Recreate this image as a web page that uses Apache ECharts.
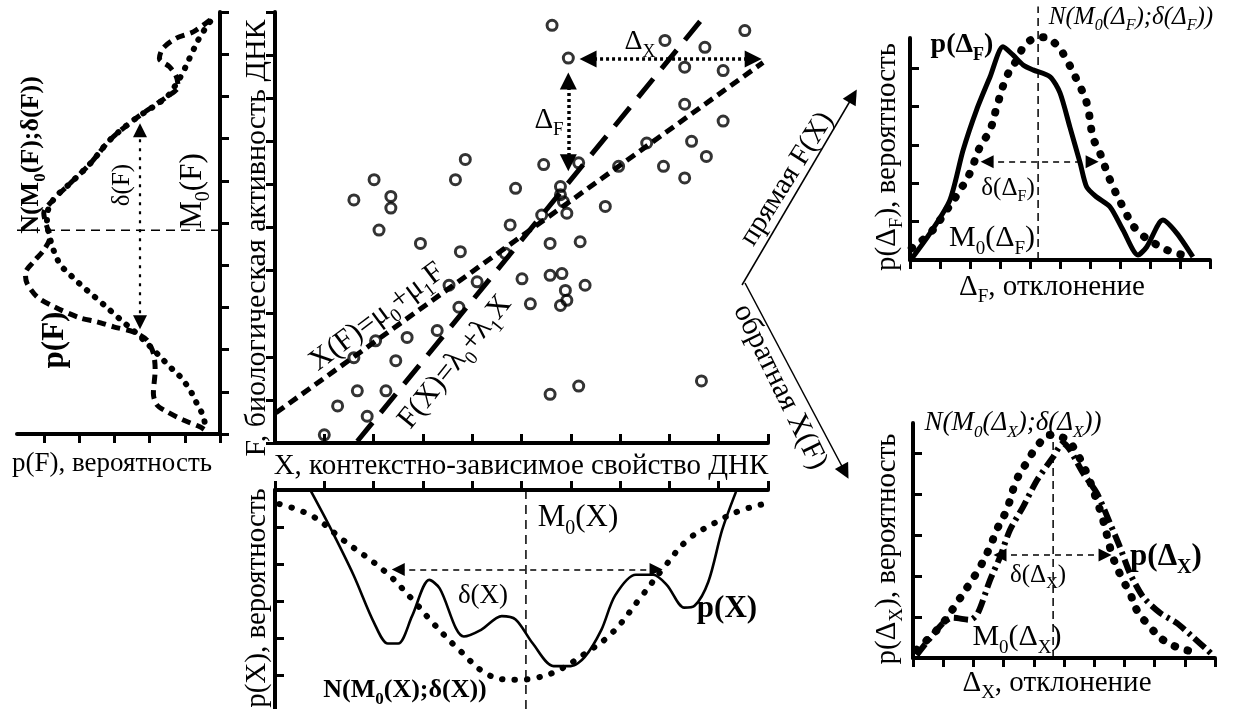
<!DOCTYPE html>
<html><head><meta charset="utf-8">
<script src="https://cdn.jsdelivr.net/npm/echarts@6/dist/echarts.min.js"></script>
<style>html,body{margin:0;padding:0;background:#fff}#c{width:1234px;height:709px}</style>
</head><body><div id="c"></div><script>
// ---------- DATA ----------
// central scatter: [X, F]
const scatterPoints = [[5.62,9.69],[7.91,9.34],[8.72,9.18],[9.53,9.57],[5.95,8.93],[8.31,8.72],[9.09,8.64],[8.31,7.86],[9.09,7.47],[7.54,6.96],[8.45,7.00],[8.75,6.65],[7.88,6.42],[8.31,6.15],[6.97,6.42],[5.45,6.46],[6.16,6.50],[3.86,6.58],[3.66,6.11],[2.01,6.11],[1.60,5.64],[2.35,5.72],[2.35,5.45],[2.11,4.94],[4.88,5.91],[5.79,5.95],[5.79,5.76],[5.85,5.60],[6.70,5.49],[5.41,5.29],[5.92,5.33],[4.77,5.06],[2.95,4.63],[3.76,4.44],[4.67,4.40],[5.58,4.63],[6.19,4.67],[5.58,3.89],[5.82,3.93],[5.01,3.81],[4.10,3.74],[3.53,3.66],[6.29,3.66],[5.89,3.54],[5.92,3.31],[5.79,3.19],[5.18,3.23],[3.73,3.15],[3.29,2.61],[2.68,2.45],[2.04,2.37],[1.60,1.98],[2.45,1.91],[1.67,1.21],[2.25,1.21],[1.27,0.86],[1.87,0.62],[1.00,0.19],[5.58,1.13],[6.16,1.32],[8.65,1.44]];
const lineFX = [[1.67,0.04],[8.75,9.96]];          // F(X)=λ0+λ1X
const lineXF = [[0.02,0.70],[9.90,8.83]];          // X(F)=μ0+μ1F
const deltaFArrow = [[5.95,8.40],[5.95,6.50]];
const deltaXArrow = [[6.35,8.91],[9.70,8.91]];
// left panel: [p(F), F]
const pFCurve = [[0.28,9.81],[0.76,9.53],[1.24,9.38],[1.62,9.14],[1.72,8.90],[1.43,8.70],[1.24,8.47],[1.19,8.23],[1.51,7.99],[1.98,7.72],[2.45,7.44],[3.12,6.97],[3.68,6.41],[4.25,5.94],[4.73,5.55],[5.00,5.23],[4.91,4.91],[4.82,4.68],[5.00,4.36],[5.29,4.08],[5.52,3.81],[5.48,3.58],[5.19,3.25],[4.72,3.02],[3.97,2.75],[3.49,2.66],[3.02,2.54],[2.46,2.42],[2.08,2.23],[1.89,1.91],[1.84,1.52],[1.89,0.96],[1.79,0.69],[1.51,0.53],[1.04,0.33],[0.57,0.17],[0.42,0.09]];
const normFCurve = [[0.28,9.77],[0.57,9.41],[0.80,9.02],[1.04,8.59],[1.23,8.31],[1.51,7.99],[2.45,7.44],[3.12,6.97],[3.68,6.41],[4.25,5.94],[4.73,5.55],[4.91,5.15],[4.88,4.83],[4.58,4.08],[4.20,3.73],[3.78,3.41],[3.40,3.14],[2.97,2.82],[2.64,2.58],[2.27,2.31],[1.79,1.91],[1.42,1.59],[1.13,1.36],[0.85,1.04],[0.66,0.73],[0.47,0.41],[0.42,0.17]];
const modeF = [[0,4.83],[5.76,4.83]];
const sigmaFArrow = [[2.27,7.20],[2.27,2.65]];
// bottom panel: [X, p(X)]
const pXCurve = [[0.72,0.01],[1.11,0.99],[1.59,2.29],[2.01,3.59],[2.29,4.15],[2.50,4.15],[2.78,3.41],[3.13,2.43],[3.34,2.66],[3.83,3.96],[4.18,3.78],[4.60,3.41],[4.88,3.50],[5.23,4.15],[5.65,4.76],[6.00,4.76],[6.28,4.52],[6.62,3.78],[6.90,2.85],[7.32,2.29],[7.67,2.29],[7.95,2.57],[8.30,3.18],[8.51,3.13],[8.79,2.48],[9.07,1.08],[9.35,0.05]];
const normXCurve = [[0.09,0.38],[0.75,0.70],[1.38,1.35],[2.22,2.19],[2.78,2.95],[3.20,3.59],[3.75,4.34],[4.32,4.99],[4.88,5.13],[5.29,5.08],[5.72,4.89],[6.28,4.43],[6.84,3.86],[7.39,2.95],[7.88,2.11],[8.37,1.35],[8.92,0.89],[9.41,0.57],[9.91,0.38]];
const modeX = [[5.09,0],[5.09,5.92]];
const sigmaXArrow = [[2.50,2.15],[7.73,2.15]];
// top-right panel: [ΔF, p(ΔF)]
const pDFCurve = [[0.06,0.04],[0.67,0.70],[1.33,1.56],[1.77,2.86],[2.22,3.91],[2.67,4.77],[3.10,5.55],[3.43,5.34],[3.77,5.08],[4.10,4.95],[4.67,4.77],[5.00,4.35],[5.33,3.46],[5.67,2.53],[5.89,1.90],[6.22,1.64],[6.67,1.38],[7.10,0.78],[7.60,0.13],[7.89,0.34],[8.43,1.04],[8.89,0.70],[9.43,0.08]];
const normDFCurve = [[0.06,0.31],[0.67,0.70],[1.22,1.30],[1.67,1.82],[2.00,2.27],[2.33,2.94],[2.67,3.39],[2.89,3.98],[3.22,4.77],[3.56,5.21],[3.89,5.65],[4.43,5.80],[4.89,5.60],[5.22,5.21],[5.56,4.69],[5.89,4.09],[6.10,3.20],[6.33,2.79],[6.67,2.08],[7.10,1.38],[7.56,0.78],[8.43,0.31],[9.10,0.13]];
const modeDF = [[4.27,0],[4.27,6.6]];
const sigmaDFArrow = [[2.57,2.56],[6.07,2.56]];
// bottom-right panel: [ΔX, p(ΔX)]
const pDXCurve = [[0.12,0.07],[0.99,0.85],[1.32,0.98],[1.89,0.93],[2.15,1.10],[2.55,1.90],[2.88,2.46],[3.21,3.12],[3.64,3.68],[4.11,4.34],[4.64,4.90],[4.97,5.24],[5.20,5.07],[5.63,4.51],[6.09,4.02],[6.52,3.29],[6.85,2.71],[7.18,2.07],[7.62,1.49],[8.18,1.10],[8.74,0.85],[9.27,0.51],[9.74,0.20],[9.93,0.07]];
const normDXCurve = [[0.12,0.20],[0.56,0.51],[0.99,0.85],[1.45,1.34],[1.89,1.83],[2.22,2.22],[2.55,2.71],[2.77,3.12],[3.10,3.61],[3.43,4.34],[3.76,4.76],[4.10,5.15],[4.54,5.44],[5.09,5.32],[5.42,5.00],[5.75,4.51],[6.08,3.85],[6.29,3.37],[6.62,2.46],[6.95,1.90],[7.18,1.59],[7.41,1.17],[7.85,0.76],[8.28,0.44],[8.84,0.24],[9.50,0.12]];
const modeDX = [[4.64,0],[4.64,5.39]];
const sigmaDXArrow = [[2.88,2.51],[6.36,2.51]];
// tick positions
const ticks0to10 = [0,1,2,3,4,5,6,7,8,9,10];
const ticks0to5 = [0,1,2,3,4,5];
const ticks1to5 = [1,2,3,4,5];
// overlay (page-pixel space) arrows between panels
const arrowDirect = [[742,285],[853,96]];
const arrowInverse = [[745,283],[845,472]];

// ---------- HELPERS ----------
const FAM = "'Liberation Serif','Times New Roman',serif";
function axis(gi, o, tickVals, inside) {
  return Object.assign({
    type:'value', gridIndex:gi,
    axisLine:{show:true, onZero:false, lineStyle:{color:'#000', width:4}},
    axisTick:{show:true, inside:!!inside, length:9, customValues:tickVals, lineStyle:{color:'#000', width:3}},
    axisLabel:{show:false}, splitLine:{show:false}
  }, o);
}
function curve(gi, data, ls, smooth) {
  return {type:'line', xAxisIndex:gi, yAxisIndex:gi, data, showSymbol:false, symbol:'none',
    smooth: smooth == null ? 0.3 : smooth, clip:false, silent:true, animation:false,
    lineStyle:Object.assign({color:'#000'}, ls)};
}
function arrow(gi, pts, ls, size, sym) {
  return {type:'lines', coordinateSystem:'cartesian2d', xAxisIndex:gi, yAxisIndex:gi,
    symbol: sym || ['triangle','triangle'], symbolSize:size, silent:true, animation:false, z:6,
    itemStyle:{color:'#000'}, data:[{coords:pts}],
    lineStyle:Object.assign({color:'#000', opacity:1, curveness:0}, ls)};
}
function label(x, y, txt, size, o) {
  o = o || {};
  const w = o.bold ? 'bold' : 'normal', st = o.italic ? 'italic' : 'normal';
  const ss = Math.round(size*0.64);
  return {type:'text', x, y, rotation:(o.rot||0)*Math.PI/180, z:100, silent:true,
    style:{text:txt, fontSize:size, fontFamily:FAM, fontWeight:w, fontStyle:st, fill:'#000',
      align:'center', verticalAlign:'middle',
      rich:{
        s:{fontSize:ss, fontFamily:FAM, fontWeight:w, fontStyle:st, fill:'#000', verticalAlign:'top', padding:[Math.round(size*0.72),0,0,0]}
      }}};
}

// ---------- CHART ----------
const chart = echarts.init(document.getElementById('c'), null, {renderer:'canvas'});
const dotted = (w, gap) => ({type:[0.5, gap], width:w, cap:'round'});

const option = {
  backgroundColor:'#fff',
  animation:false,
  grid:[
    {left:17, top:12, width:203, height:422},
    {left:275, top:12, width:493, height:431},
    {left:275, top:490, width:493, height:219},
    {left:910, top:38, width:300, height:222},
    {left:913, top:423, width:302, height:235},
    {left:0, top:0, width:1234, height:709}
  ],
  xAxis:[
    axis(0, {min:0, max:5.76, inverse:true, position:'bottom'}, ticks0to5, false),
    axis(1, {min:0, max:10, interval:1, position:'bottom'}, ticks0to10, true),
    axis(2, {min:0, max:10, interval:1, position:'top'}, ticks0to10, false),
    axis(3, {min:0, max:10, interval:1, position:'bottom'}, ticks0to10, false),
    axis(4, {min:0, max:10, interval:1, position:'bottom'}, ticks0to10, false),
    {type:'value', gridIndex:5, min:0, max:1234, show:false}
  ],
  yAxis:[
    axis(0, {min:0, max:10, interval:1, position:'right'}, ticks0to10, false),
    axis(1, {min:0, max:10, interval:1, position:'left'}, ticks0to10, false),
    axis(2, {min:0, max:5.92, inverse:true, position:'left'}, ticks1to5, true),
    axis(3, {min:0, max:5.78, position:'left'}, ticks1to5, true),
    axis(4, {min:0, max:5.73, position:'left'}, ticks1to5, true),
    {type:'value', gridIndex:5, min:0, max:709, inverse:true, show:false}
  ],
  series:[
    // left panel
    curve(0, modeF, {type:[9,6], width:1.5}, false),
    curve(0, normFCurve, dotted(6, 10), 0.35),
    curve(0, pFCurve, {type:[9,6], width:5}, 0.3),
    arrow(0, sigmaFArrow, {type:[3,6], width:2.2}, 14),
    // central scatter
    curve(1, lineFX, {type:[24,13], width:5}, false),
    curve(1, lineXF, {type:[10,6], width:5}, false),
    {type:'scatter', xAxisIndex:1, yAxisIndex:1, data:scatterPoints, symbol:'circle', symbolSize:10,
      itemStyle:{color:'rgba(255,255,255,0)', borderColor:'#000', borderWidth:3}, silent:true, animation:false, z:4},
    arrow(1, deltaFArrow, {type:[3,3], width:3.5}, 17),
    arrow(1, deltaXArrow, {type:[3,3], width:3.5}, 17),
    // bottom panel
    curve(2, modeX, {type:[9,6], width:1.5}, false),
    curve(2, normXCurve, dotted(6, 12), 0.4),
    curve(2, pXCurve, {type:'solid', width:2.6}, 0.3),
    arrow(2, sigmaXArrow, {type:[6,5], width:1.5}, 13),
    // top-right panel
    curve(3, modeDF, {type:[8,5], width:1.5}, false),
    curve(3, normDFCurve, dotted(8, 13), 0.4),
    curve(3, pDFCurve, {type:'solid', width:5}, 0.25),
    arrow(3, sigmaDFArrow, {type:[6,5], width:1.5}, 13),
    // bottom-right panel
    curve(4, modeDX, {type:[8,5], width:1.5}, false),
    curve(4, normDXCurve, dotted(8, 13), 0.4),
    curve(4, pDXCurve, {type:[14,5,3,5], width:6}, 0.25),
    arrow(4, sigmaDXArrow, {type:[6,5], width:1.5}, 13),
    // connectors
    arrow(5, arrowDirect, {type:'solid', width:1.5}, 15, ['none','triangle']),
    arrow(5, arrowInverse, {type:'solid', width:1.5}, 15, ['none','triangle'])
  ],
  graphic:[
    // left panel texts
    label(112, 464, 'p(F), вероятность', 27),
    label(31, 155, 'N(M{s|0}(F);δ(F))', 26, {bold:true, rot:90}),
    label(122, 185, 'δ(F)', 25, {rot:90}),
    label(193, 191, 'M{s|0}(F)', 31, {rot:90}),
    label(55, 340, 'p(F)', 31, {bold:true, rot:90}),
    // axis titles central
    label(257, 238, 'F, биологическая активность ДНК', 30, {rot:90}),
    label(521, 466, 'X, контекстно-зависимое свойство ДНК', 29),
    label(257, 598, 'p(X), вероятность', 29, {rot:90}),
    // scatter annotations
    label(640, 42, 'Δ{s|X}', 28),
    label(549, 120, 'Δ{s|F}', 29),
    label(377, 317, 'X(F)=μ{s|0}+μ{s|1}F', 30, {rot:37}),
    label(455, 362, 'F(X)=λ{s|0}+λ{s|1}X', 30, {rot:51}),
    // bottom panel
    label(578, 518, 'M{s|0}(X)', 31),
    label(483, 596, 'δ(X)', 27),
    label(727, 609, 'p(X)', 31, {bold:true}),
    label(405, 690, 'N(M{s|0}(X);δ(X))', 26, {bold:true}),
    // top-right panel
    label(962, 45, 'p(Δ{s|F})', 28, {bold:true}),
    label(1131, 17, 'N(M{s|0}(Δ{s|F});δ(Δ{s|F}))', 25, {italic:true}),
    label(1008, 188, 'δ(Δ{s|F})', 25),
    label(992, 238, 'M{s|0}(Δ{s|F})', 30),
    label(887, 157, 'p(Δ{s|F}), вероятность', 29, {rot:90}),
    label(1052, 287, 'Δ{s|F}, отклонение', 29),
    label(787, 179, 'прямая F(X)', 29, {rot:58}),
    label(780, 387, 'обратная X(F)', 30, {rot:-64}),
    // bottom-right panel
    label(1013, 423, 'N(M{s|0}(Δ{s|X});δ(Δ{s|X}))', 27, {italic:true}),
    label(1166, 557, 'p(Δ{s|X})', 31, {bold:true}),
    label(1038, 575, 'δ(Δ{s|X})', 25),
    label(1017, 637, 'M{s|0}(Δ{s|X})', 30),
    label(887, 549, 'p(Δ{s|X}), вероятность', 29, {rot:90}),
    label(1057, 683, 'Δ{s|X}, отклонение', 29)
  ]
};
chart.setOption(option);
</script></body></html>
